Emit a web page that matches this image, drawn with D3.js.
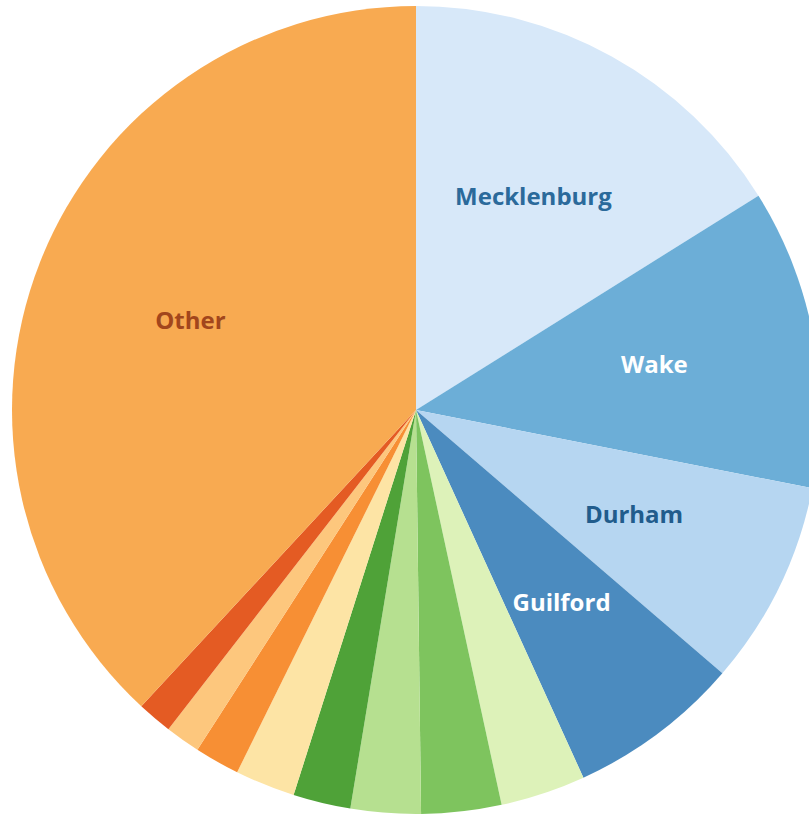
<!DOCTYPE html>
<html>
<head>
<meta charset="utf-8">
<script src="https://cdn.jsdelivr.net/npm/d3@7"></script>
<style>
  html, body { margin: 0; padding: 0; background: #ffffff; }
  svg { display: block; }
</style>
</head>
<body>
<svg id="chart" width="809" height="816"></svg>
<script>
// Share of total by county (percent), clockwise from 12 o'clock
const counties = ["Mecklenburg", "Wake", "Durham", "Guilford", "Forsyth", "Buncombe",
                  "New Hanover", "Cumberland", "Orange", "Union", "Cabarrus", "Johnston", "Other"];
const shares   = [16.1, 12.0, 8.2, 6.9, 3.4, 3.2, 2.8, 2.3, 2.4, 1.8, 1.4, 1.4, 38.1];
const labelled = ["Mecklenburg", "Wake", "Durham", "Guilford", "Other"];

const fillColors  = ["#d7e8f9", "#6caed7", "#b6d6f1", "#4b8bbf", "#ddf2b9", "#7ec45e",
                     "#b6e090", "#4fa238", "#fde4a5", "#f78f34", "#fdc77d", "#e45b23", "#f8aa51"];
const labelColors = {
  "Mecklenburg": "#2b6a9b",
  "Wake": "#ffffff",
  "Durham": "#215c8c",
  "Guilford": "#ffffff",
  "Other": "#a2461c"
};

const rows = counties.map((c, i) => ({ county: c, share: shares[i] }));

const svg = d3.select("#chart");
const cx = 416, cy = 410, radius = 404;

const color = d3.scaleOrdinal().domain(counties).range(fillColors);

const pie = d3.pie().sort(null).value(d => d.share);
const arc = d3.arc().innerRadius(0).outerRadius(radius);
const labelArc = d3.arc().innerRadius(radius * 0.6).outerRadius(radius * 0.6);

const g = svg.append("g").attr("transform", `translate(${cx},${cy})`);
const arcs = pie(rows);

g.selectAll("path.slice")
  .data(arcs)
  .join("path")
  .attr("class", "slice")
  .attr("d", arc)
  .attr("fill", d => color(d.data.county));

g.selectAll("text.label")
  .data(arcs.filter(d => labelled.includes(d.data.county)))
  .join("text")
  .attr("class", "label")
  .attr("transform", d => `translate(${labelArc.centroid(d)})`)
  .attr("text-anchor", "middle")
  .attr("dy", "0.3em")
  .attr("font-family", "'Open Sans', 'Noto Sans', sans-serif")
  .attr("font-weight", 700)
  .attr("font-size", 24)
  .attr("fill", d => labelColors[d.data.county])
  .text(d => d.data.county);
</script>
</body>
</html>
